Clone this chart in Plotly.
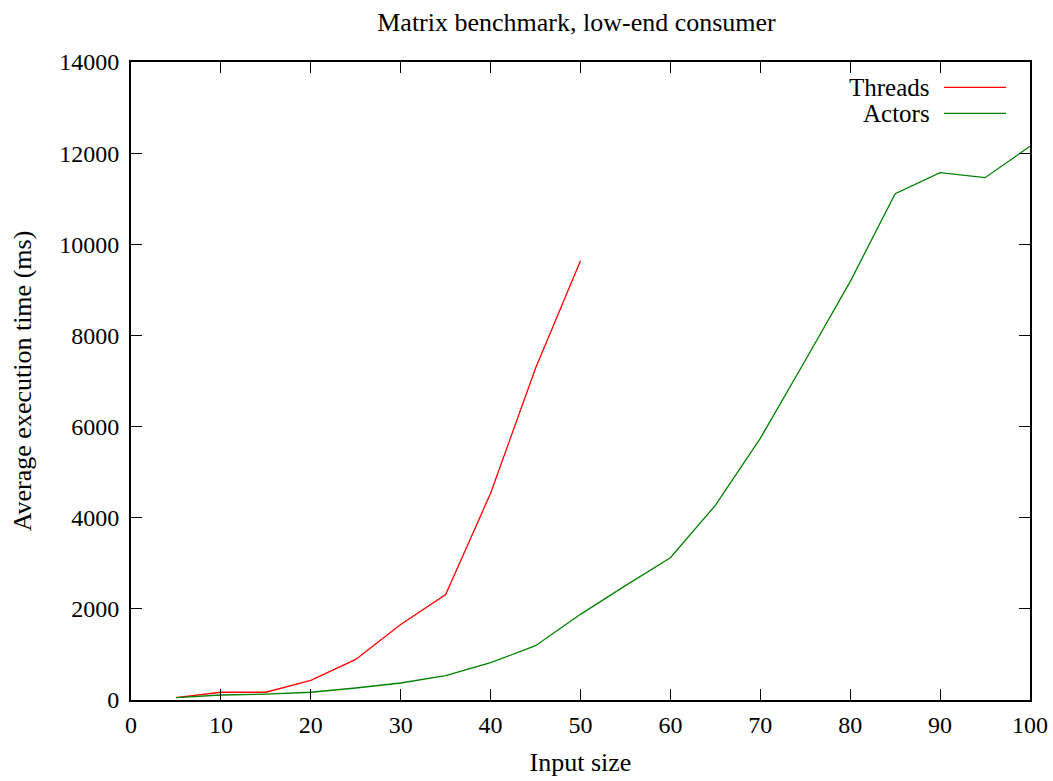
import plotly.graph_objects as go

input_size = [5, 10, 15, 20, 25, 30, 35, 40, 45, 50, 55, 60, 65, 70, 75, 80, 85, 90, 95, 100]
threads_x = [5, 10, 15, 20, 25, 30, 35, 40, 45, 50]
threads_ms = [50, 170, 170, 430, 890, 1655, 2315, 4535, 7280, 9640]
actors_ms = [50, 110, 130, 170, 263, 373, 534, 819, 1192, 1880, 2510, 3123, 4272, 5742, 7450, 9180, 11110, 11572, 11462, 12150]

x_ticks = list(range(0, 101, 10))
y_ticks = list(range(0, 14001, 2000))

FONT = "Liberation Serif"
TXT = 26
TICK = 24
RED = "#ff0000"
GREEN = "#008000"

fig = go.Figure()
fig.add_trace(go.Scatter(x=threads_x, y=threads_ms, mode="lines", name="Threads",
                         line=dict(color=RED, width=1.3), showlegend=False))
fig.add_trace(go.Scatter(x=input_size, y=actors_ms, mode="lines", name="Actors",
                         line=dict(color=GREEN, width=1.3), showlegend=False))

axis_common = dict(showline=True, mirror="ticks", linecolor="black", linewidth=2,
                   ticks="inside", ticklen=11, tickwidth=1.2, tickcolor="black",
                   showgrid=False, zeroline=False, automargin=False,
                   tickfont=dict(family=FONT, size=TICK, color="black"))

fig.update_xaxes(range=[0, 100], tickvals=x_ticks, ticktext=[str(v) for v in x_ticks],
                 ticklabelstandoff=2,
                 title=dict(text="Input size", font=dict(family=FONT, size=TXT, color="black"), standoff=16),
                 **axis_common)
fig.update_yaxes(range=[0, 14000], tickvals=y_ticks, ticktext=[str(v) for v in y_ticks],
                 ticklabelstandoff=5,
                 title=dict(text="Average execution time (ms)", font=dict(family=FONT, size=TXT, color="black"), standoff=20),
                 **axis_common)

# legend (gnuplot style: label on the left, sample on the right)
legend_items = [("Threads", RED, 0.9603), ("Actors", GREEN, 0.9196)]
for label, color, yp in legend_items:
    fig.add_annotation(x=0.8899, y=yp, xref="paper", yref="paper", text=label,
                       showarrow=False, xanchor="right", yanchor="middle",
                       height=24, borderpad=0,
                       font=dict(family=FONT, size=25, color="black"))
    fig.add_shape(type="line", xref="paper", yref="paper", x0=0.9043, x1=0.9733, y0=yp, y1=yp,
                  line=dict(color=color, width=1.3))

fig.update_layout(
    width=1053, height=781,
    margin=dict(l=131, r=23, t=62, b=81),
    paper_bgcolor="white", plot_bgcolor="white",
    title=dict(text="Matrix benchmark, low-end consumer", x=0.5475, xanchor="center",
               y=0.972, yanchor="middle",
               font=dict(family=FONT, size=TXT, color="black")),
    showlegend=False,
)

fig.write_html("out.html")
